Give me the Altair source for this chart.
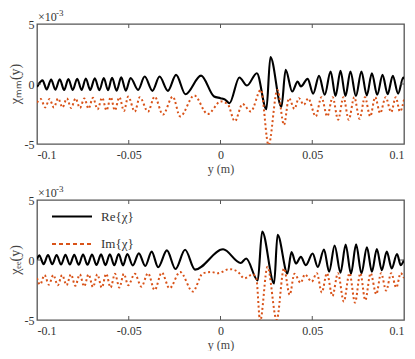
import altair as alt
import pandas as pd

# ---------------- data (values in units of 1e-3) ----------------
top_re_x = [-0.1, -0.097, -0.0947, -0.0923, -0.0900, -0.0876, -0.0852, -0.0829, -0.0805, -0.0781,
            -0.0757, -0.0734, -0.0710, -0.0685, -0.0660, -0.0636, -0.0613, -0.0591, -0.0566, -0.0541,
            -0.0516, -0.0490, -0.0449, -0.0413, -0.0371, -0.0332, -0.0287, -0.0242, -0.0191, -0.0106,
            -0.0035, 0.0, 0.0025, 0.0049, 0.0103, 0.0144, 0.0198, 0.0250, 0.0272, 0.0332,
            0.0355, 0.0391, 0.0420, 0.0438, 0.0475, 0.0505, 0.0537, 0.0568, 0.0600, 0.0627,
            0.0654, 0.0681, 0.0708, 0.0738, 0.0768, 0.0797, 0.0825, 0.0854, 0.0883, 0.0911,
            0.0939, 0.0968, 0.0996, 0.1]
top_re_y = [-0.25, 0.3, -0.45, 0.38, -0.48, 0.4, -0.5, 0.42, -0.5, 0.44,
            -0.5, 0.46, -0.5, 0.48, -0.52, 0.5, -0.52, 0.52, -0.55, 0.55,
            -0.55, 0.5, -0.49, 0.62, -0.57, 0.62, -0.57, 0.76, -0.85, 0.70,
            -1.04, -1.18, -1.3, -1.6, 0.54, -0.13, 0.90, -2.1, 2.25, -1.9,
            1.18, -0.63, 0.2, -0.2, 0.43, -0.8, 0.68, -0.9, 1.04, -1.0,
            1.09, -1.0, 1.04, -1.0, 1.04, -0.95, 0.9, -0.9, 0.76, -0.85,
            0.68, -0.8, 0.54, 0.4]

top_im_x = [-0.1, -0.098, -0.0955, -0.0932, -0.0908, -0.0885, -0.0861, -0.0837, -0.0814, -0.079,
            -0.0766, -0.0742, -0.0719, -0.0695, -0.067, -0.0645, -0.0621, -0.0598, -0.0576, -0.0551,
            -0.0526, -0.0503, -0.0467, -0.044, -0.0395, -0.0359, -0.0314, -0.026, -0.022, -0.0143,
            -0.007, 0.0002, 0.004, 0.0078, 0.012, 0.0165, 0.022, 0.0262, 0.031, 0.0346,
            0.0373, 0.0403, 0.0427, 0.0454, 0.0478, 0.0519, 0.055, 0.0582, 0.0611, 0.0641,
            0.067, 0.0699, 0.0729, 0.0758, 0.0787, 0.0816, 0.0843, 0.087, 0.09, 0.093,
            0.0955, 0.0978, 0.1]
top_im_y = [-1.55, -1.25, -1.95, -1.25, -1.95, -1.2, -1.95, -1.2, -2.0, -1.2,
            -2.0, -1.2, -2.05, -1.15, -2.1, -1.15, -2.2, -1.1, -2.2, -1.1,
            -2.25, -1.05, -2.3, -1.1, -2.3, -1.05, -2.55, -1.05, -2.7, -0.96,
            -2.5, -1.45, -1.7, -3.1, -1.67, -2.29, -0.49, -5.1, -0.49, -3.4,
            -1.18, -2.07, -1.18, -1.73, -1.2, -2.7, -1.1, -2.7, -1.1, -2.98,
            -1.1, -2.98, -1.1, -2.9, -1.1, -2.7, -1.1, -2.43, -1.1, -2.35,
            -1.1, -2.3, -1.3]

bot_re_x = [-0.1, -0.0988, -0.0964, -0.094, -0.0917, -0.0893, -0.0869, -0.0845, -0.0821, -0.0797,
            -0.0773, -0.0749, -0.0725, -0.07, -0.0676, -0.0651, -0.0627, -0.0603, -0.0579, -0.0555,
            -0.0531, -0.0508, -0.0478, -0.0445, -0.041, -0.0375, -0.034, -0.0292, -0.0245, -0.0193,
            -0.0139, 0.0014, 0.011, 0.014, 0.0203, 0.0227, 0.0292, 0.0311, 0.0365, 0.0387,
            0.0411, 0.0438, 0.0465, 0.0502, 0.053, 0.0564, 0.0592, 0.0622, 0.0654, 0.0682,
            0.0711, 0.0739, 0.0768, 0.0798, 0.0825, 0.0852, 0.0879, 0.0906, 0.0933, 0.0962,
            0.0982, 0.1]
bot_re_y = [0.0, 0.4, -0.35, 0.42, -0.36, 0.42, -0.38, 0.43, -0.38, 0.44,
            -0.4, 0.45, -0.4, 0.46, -0.42, 0.47, -0.43, 0.48, -0.44, 0.5,
            -0.45, 0.5, -0.45, 0.55, -0.5, 0.7, -0.6, 0.8, -0.75, 0.85,
            -0.8, 0.89, -0.25, 0.12, -1.7, 2.38, -1.95, 2.1, -1.12, 0.67,
            -0.29, 0.26, -0.43, 0.54, -0.57, 0.88, -0.98, 1.2, -1.05, 1.28,
            -1.15, 1.3, -1.12, 1.05, -0.98, 0.92, -0.85, 0.7, -0.7, 0.5,
            -0.43, 0.0]

bot_im_x = [-0.1, -0.0983, -0.0959, -0.0935, -0.0911, -0.0887, -0.0863, -0.0839, -0.0815, -0.0791,
            -0.0767, -0.0743, -0.0719, -0.0695, -0.0671, -0.0647, -0.0623, -0.0599, -0.0575, -0.0551,
            -0.0527, -0.0503, -0.0467, -0.0431, -0.0395, -0.0359, -0.032, -0.0278, -0.022, -0.0151,
            -0.0097, -0.005, -0.0015, 0.0049, 0.0094, 0.013, 0.0175, 0.0195, 0.0216, 0.0256,
            0.0306, 0.0346, 0.0377, 0.0403, 0.0437, 0.046, 0.0497, 0.0525, 0.0552, 0.058,
            0.061, 0.064, 0.0672, 0.0703, 0.0733, 0.0762, 0.0789, 0.0818, 0.0849, 0.0875,
            0.0903, 0.093, 0.0958, 0.0982, 0.1]
bot_im_y = [-1.5, -2.05, -1.25, -2.05, -1.25, -2.1, -1.25, -2.1, -1.2, -2.15,
            -1.2, -2.2, -1.2, -2.25, -1.2, -2.3, -1.15, -2.3, -1.15, -2.3,
            -1.15, -2.1, -1.15, -2.22, -1.1, -2.5, -1.05, -2.36, -1.0, -2.63,
            -1.12, -1.0, -1.1, -0.76, -0.98, -1.53, -1.2, -1.5, -5.1, -0.57,
            -5.0, -0.7, -2.9, -1.15, -1.9, -1.2, -1.8, -1.1, -2.7, -1.1,
            -3.0, -1.1, -3.46, -1.1, -3.55, -1.1, -3.35, -1.1, -2.85, -1.1,
            -2.55, -1.1, -2.3, -1.1, -1.5]

series_names = ["Re{χ}", "Im{χ}"]
x_tick_values = [-0.1, -0.05, 0, 0.05, 0.1]
y_tick_values = [-5, 0, 5]
inner_x_ticks = [-0.05, 0, 0.05]
inner_y_ticks = [0]
exponent_base = "×10"
exponent_power = "-3"
y_titles = ["χₘₘ(y)", "χₑₑ(y)"]

W, H = 367, 120
FONT = "Liberation Serif"
BLACK = "#000000"
ORANGE = "#D95319"
TXT = "#333333"
FRAME = "#555555"


def make_df(rx, ry, ix, iy):
    assert len(rx) == len(ry) and len(ix) == len(iy)
    a = pd.DataFrame({"pos": rx, "val": ry, "series": series_names[0], "order": range(len(rx))})
    b = pd.DataFrame({"pos": ix, "val": iy, "series": series_names[1], "order": range(len(ix))})
    return pd.concat([a, b], ignore_index=True)


xscale = alt.Scale(domain=[-0.1, 0.1], nice=False, zero=False)
yscale = alt.Scale(domain=[-5, 5], nice=False, zero=False)


def panel(df, ytitle, with_legend):
    base = alt.Chart(df)
    re_line = base.transform_filter(alt.datum.series == series_names[0]).mark_line(
        interpolate="monotone", clip=True, color=BLACK, strokeWidth=2.1
    ).encode(
        x=alt.X("pos:Q", scale=xscale,
                axis=alt.Axis(values=x_tick_values, labelExpr="'' + datum.value", title="y (m)",
                              ticks=False, domain=False, grid=False, labelPadding=5,
                              titlePadding=3)),
        y=alt.Y("val:Q", scale=yscale,
                axis=alt.Axis(values=y_tick_values, labelExpr="'' + datum.value", title=None,
                              ticks=False, domain=False, grid=False, labelPadding=3)),
        order="order:Q",
    )
    im_line = base.transform_filter(alt.datum.series == series_names[1]).mark_line(
        interpolate="monotone", clip=True, color=ORANGE, strokeWidth=2.0, strokeDash=[2, 2.6]
    ).encode(x=alt.X("pos:Q", scale=xscale), y=alt.Y("val:Q", scale=yscale), order="order:Q")

    xt = alt.Chart(pd.DataFrame({"t": inner_x_ticks}))
    xt_bot = xt.mark_rule(color=FRAME, strokeWidth=1).encode(
        x=alt.X("t:Q", scale=xscale), y=alt.value(H), y2=alt.value(H - 4))
    xt_top = xt.mark_rule(color=FRAME, strokeWidth=1).encode(
        x=alt.X("t:Q", scale=xscale), y=alt.value(0), y2=alt.value(4))
    yt = alt.Chart(pd.DataFrame({"t": inner_y_ticks}))
    yt_l = yt.mark_rule(color=FRAME, strokeWidth=1).encode(
        y=alt.Y("t:Q", scale=yscale), x=alt.value(0), x2=alt.value(4))
    yt_r = yt.mark_rule(color=FRAME, strokeWidth=1).encode(
        y=alt.Y("t:Q", scale=yscale), x=alt.value(W), x2=alt.value(W - 4))

    ytitle_mark = alt.Chart(pd.DataFrame({"s": [ytitle]})).mark_text(
        align="center", baseline="middle", angle=270, font=FONT, fontSize=14, color="#444444"
    ).encode(text="s:N", x=alt.value(-21), y=alt.value(H / 2))

    expo = alt.Chart(pd.DataFrame({"s": [exponent_base]})).mark_text(
        align="left", baseline="alphabetic", font=FONT, fontSize=12, color=TXT
    ).encode(text="s:N", x=alt.value(1), y=alt.value(-3))
    expo2 = alt.Chart(pd.DataFrame({"s": [exponent_power]})).mark_text(
        align="left", baseline="alphabetic", font=FONT, fontSize=9, color=TXT
    ).encode(text="s:N", x=alt.value(19), y=alt.value(-8))

    layers = [re_line, im_line, xt_bot, xt_top, yt_l, yt_r, ytitle_mark, expo, expo2]
    if with_legend:
        leg = pd.DataFrame({"lab": series_names})
        l_re = alt.Chart(leg).transform_filter(alt.datum.lab == series_names[0]).mark_rule(
            color=BLACK, strokeWidth=2).encode(x=alt.value(15), x2=alt.value(55), y=alt.value(16.5))
        l_im = alt.Chart(leg).transform_filter(alt.datum.lab == series_names[1]).mark_rule(
            color=ORANGE, strokeWidth=2, strokeDash=[4, 3]).encode(
            x=alt.value(15), x2=alt.value(55), y=alt.value(44))
        t_re = alt.Chart(leg).transform_filter(alt.datum.lab == series_names[0]).mark_text(
            align="left", baseline="middle", font=FONT, fontSize=13, color=TXT).encode(
            text="lab:N", x=alt.value(64), y=alt.value(16.5))
        t_im = alt.Chart(leg).transform_filter(alt.datum.lab == series_names[1]).mark_text(
            align="left", baseline="middle", font=FONT, fontSize=13, color=TXT).encode(
            text="lab:N", x=alt.value(64), y=alt.value(44))
        layers += [l_re, l_im, t_re, t_im]
    return alt.layer(*layers).properties(width=W, height=H)


top = panel(make_df(top_re_x, top_re_y, top_im_x, top_im_y), y_titles[0], False)
bot = panel(make_df(bot_re_x, bot_re_y, bot_im_x, bot_im_y), y_titles[1], True)

chart = alt.vconcat(top, bot, spacing=9).properties(
    padding={"left": 0, "top": 0, "right": 0, "bottom": 0}
).configure_view(
    stroke=FRAME, strokeWidth=1.3
).configure_axis(
    labelFont=FONT, titleFont=FONT, labelFontSize=12, titleFontSize=12,
    labelColor=TXT, titleColor="#444444", titleFontWeight="normal"
)

chart.save("out.html", embed_options={"renderer": "svg", "actions": False})
